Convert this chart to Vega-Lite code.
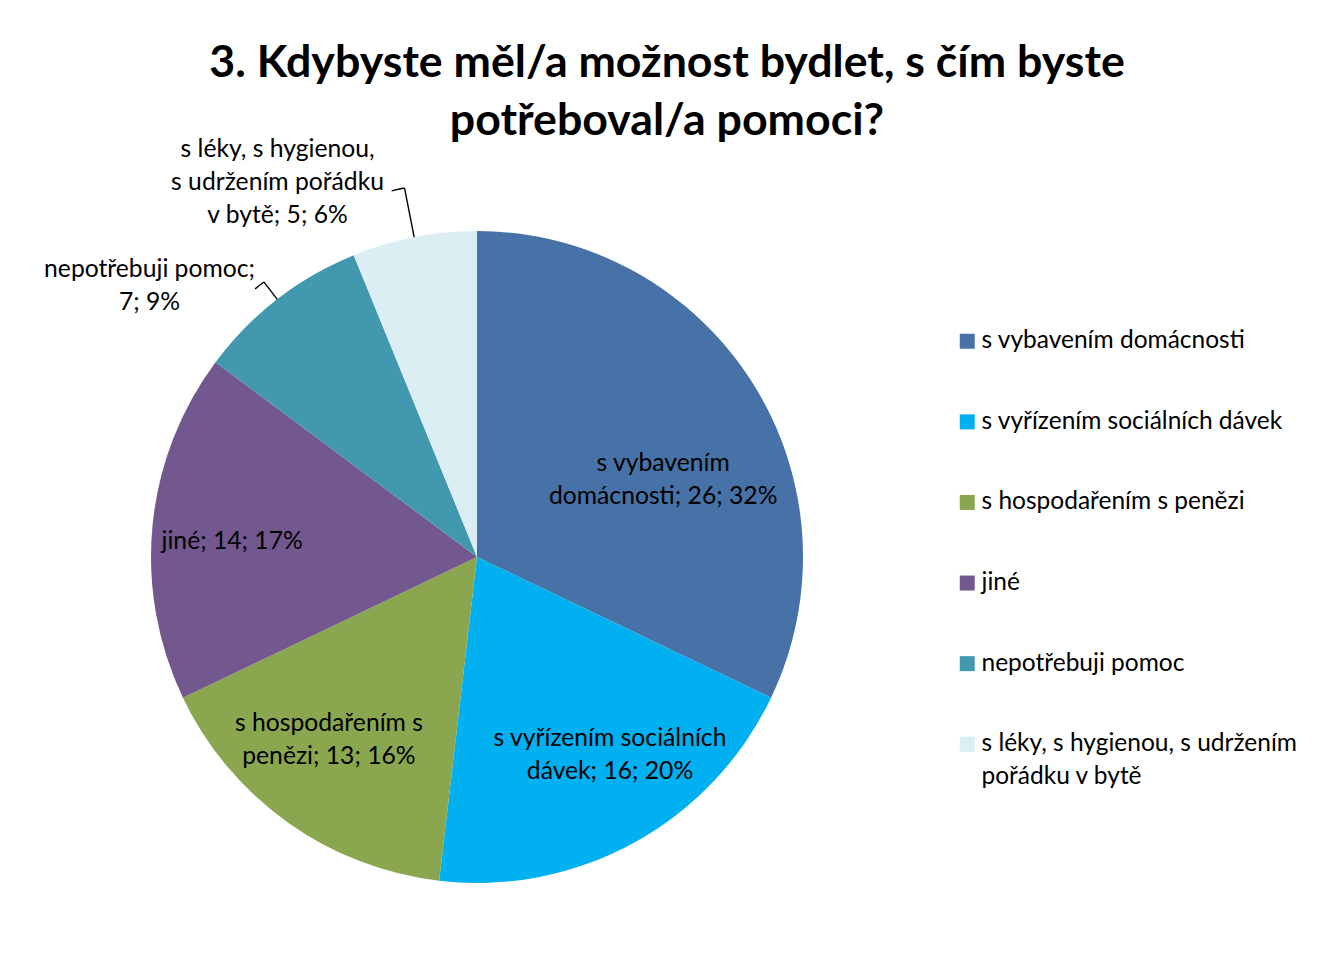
{
  "$schema": "https://vega.github.io/schema/vega-lite/v6.json",
  "width": 652,
  "height": 652,
  "autosize": {"type": "none"},
  "padding": {"left": 151, "top": 231, "right": 514, "bottom": 75},
  "background": "white",
  "title": {
    "text": ["3. Kdybyste měl/a možnost bydlet, s čím byste", "potřeboval/a pomoci?"],
    "font": "Lato",
    "fontSize": 44.7,
    "fontWeight": "bold",
    "color": "#000000",
    "anchor": "middle",
    "dx": 190,
    "lineHeight": 58,
    "offset": -8
  },
  "data": {
    "values": [
      {"cat": "s vybavením domácnosti", "n": 26, "i": 1, "label": "s vybavením\ndomácnosti; 26; 32%"},
      {"cat": "s vyřízením sociálních dávek", "n": 16, "i": 2, "label": "s vyřízením sociálních\ndávek; 16; 20%"},
      {"cat": "s hospodařením s penězi", "n": 13, "i": 3, "label": "s hospodařením s\npenězi; 13; 16%"},
      {"cat": "jiné", "n": 14, "i": 4, "label": "jiné; 14; 17%"},
      {"cat": "nepotřebuji pomoc", "n": 7, "i": 5, "label": "nepotřebuji pomoc;\n7; 9%"},
      {"cat": "s léky, s hygienou, s udržením pořádku v bytě", "n": 5, "i": 6, "label": "s léky, s hygienou,\ns udržením pořádku\nv bytě; 5; 6%"}
    ]
  },
  "encoding": {
    "theta": {"field": "n", "type": "quantitative", "stack": true},
    "order": {"field": "i", "type": "quantitative"}
  },
  "layer": [
    {
      "mark": {"type": "arc", "outerRadius": 326},
      "encoding": {
        "color": {
          "field": "cat",
          "type": "nominal",
          "scale": {
            "domain": ["s vybavením domácnosti", "s vyřízením sociálních dávek", "s hospodařením s penězi", "jiné", "nepotřebuji pomoc", "s léky, s hygienou, s udržením pořádku v bytě"],
            "range": ["#4672A7", "#00B0F0", "#8AA64E", "#72588F", "#4298AF", "#DAEEF4"]
          },
          "legend": {
            "title": null,
            "orient": "none",
            "legendX": 804,
            "legendY": 98,
            "symbolType": "square",
            "symbolSize": 225,
            "symbolStrokeWidth": 0,
            "symbolOpacity": 1,
            "labelFont": "Lato",
            "labelFontSize": 24.5,
            "labelColor": "#000000",
            "labelOffset": 2,
            "labelLimit": 500,
            "rowPadding": 55.6,
            "labelExpr": "datum.label == 's léky, s hygienou, s udržením pořádku v bytě' ? ['s léky, s hygienou, s udržením', 'pořádku v bytě'] : datum.label"
          }
        }
      }
    },
    {
      "transform": [{"stack": "n", "groupby": [], "sort": [{"field": "i", "order": "ascending"}], "as": ["s0", "s1"]}],
      "mark": {"type": "arc", "innerRadius": 326, "outerRadius": 376, "thetaOffset": -0.19393, "theta2Offset": -0.19393, "fill": "transparent", "stroke": "#000000", "strokeWidth": 1.4},
      "encoding": {"theta": {"field": "s1", "type": "quantitative", "stack": null}, "theta2": {"field": "s1"}, "strokeOpacity": {"condition": {"test": "datum.i == 6", "value": 1}, "value": 0}}
    },
    {
      "transform": [{"stack": "n", "groupby": [], "sort": [{"field": "i", "order": "ascending"}], "as": ["s0", "s1"]}],
      "mark": {"type": "arc", "innerRadius": 376, "outerRadius": 376, "thetaOffset": -0.19393, "theta2Offset": -0.22893, "fill": "transparent", "stroke": "#000000", "strokeWidth": 1.4},
      "encoding": {"theta": {"field": "s1", "type": "quantitative", "stack": null}, "theta2": {"field": "s1"}, "strokeOpacity": {"condition": {"test": "datum.i == 6", "value": 1}, "value": 0}}
    },
    {
      "transform": [{"stack": "n", "groupby": [], "sort": [{"field": "i", "order": "ascending"}], "as": ["s0", "s1"]}],
      "mark": {"type": "arc", "innerRadius": 326, "outerRadius": 348, "thetaOffset": -0.2715, "theta2Offset": -0.2715, "fill": "transparent", "stroke": "#000000", "strokeWidth": 1.4},
      "encoding": {"theta": {"field": "s1", "type": "quantitative", "stack": null}, "theta2": {"field": "s1"}, "strokeOpacity": {"condition": {"test": "datum.i == 5", "value": 1}, "value": 0}}
    },
    {
      "transform": [{"stack": "n", "groupby": [], "sort": [{"field": "i", "order": "ascending"}], "as": ["s0", "s1"]}],
      "mark": {"type": "arc", "innerRadius": 348, "outerRadius": 348, "thetaOffset": -0.2715, "theta2Offset": -0.3035, "fill": "transparent", "stroke": "#000000", "strokeWidth": 1.4},
      "encoding": {"theta": {"field": "s1", "type": "quantitative", "stack": null}, "theta2": {"field": "s1"}, "strokeOpacity": {"condition": {"test": "datum.i == 5", "value": 1}, "value": 0}}
    },
    {
      "mark": {"type": "text", "radius": 200, "dx": 17, "dy": 14, "font": "Lato", "fontSize": 24.7, "lineBreak": "\n", "lineHeight": 33, "align": "center", "baseline": "middle", "color": "#000000"},
      "encoding": {"detail": {"field": "cat"}, "text": {"condition": {"test": "datum.i == 1", "field": "label"}, "value": ""}}
    },
    {
      "mark": {"type": "text", "radius": 236, "dx": 19, "dy": -25, "font": "Lato", "fontSize": 24.7, "lineBreak": "\n", "lineHeight": 33, "align": "center", "baseline": "middle", "color": "#000000"},
      "encoding": {"detail": {"field": "cat"}, "text": {"condition": {"test": "datum.i == 2", "field": "label"}, "value": ""}}
    },
    {
      "mark": {"type": "text", "radius": 234, "dx": -12, "dy": -23, "font": "Lato", "fontSize": 24.7, "lineBreak": "\n", "lineHeight": 33, "align": "center", "baseline": "middle", "color": "#000000"},
      "encoding": {"detail": {"field": "cat"}, "text": {"condition": {"test": "datum.i == 3", "field": "label"}, "value": ""}}
    },
    {
      "mark": {"type": "text", "radius": 245, "dx": -1, "dy": 9, "font": "Lato", "fontSize": 24.7, "lineBreak": "\n", "lineHeight": 33, "align": "center", "baseline": "middle", "color": "#000000"},
      "encoding": {"detail": {"field": "cat"}, "text": {"condition": {"test": "datum.i == 4", "field": "label"}, "value": ""}}
    },
    {
      "mark": {"type": "text", "radius": 417, "dx": -72, "dy": 43, "font": "Lato", "fontSize": 24.7, "lineBreak": "\n", "lineHeight": 33, "align": "center", "baseline": "middle", "color": "#000000"},
      "encoding": {"detail": {"field": "cat"}, "text": {"condition": {"test": "datum.i == 5", "field": "label"}, "value": ""}}
    },
    {
      "mark": {"type": "text", "radius": 407, "dx": -121, "dy": -8, "font": "Lato", "fontSize": 24.7, "lineBreak": "\n", "lineHeight": 33, "align": "center", "baseline": "middle", "color": "#000000"},
      "encoding": {"detail": {"field": "cat"}, "text": {"condition": {"test": "datum.i == 6", "field": "label"}, "value": ""}}
    }
  ],
  "config": {"view": {"stroke": null}, "style": {"guide-label": {"lineHeight": 33}}}
}
